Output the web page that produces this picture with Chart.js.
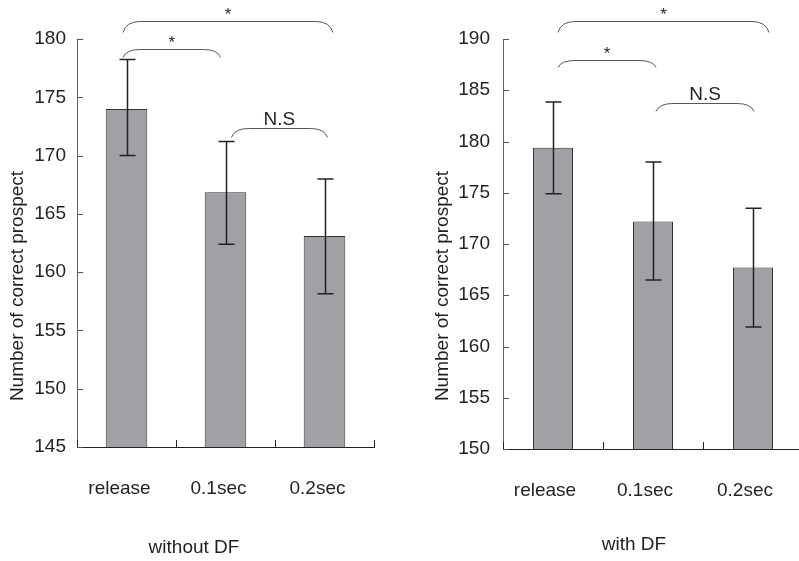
<!DOCTYPE html>
<html><head><meta charset="utf-8">
<script src="https://cdn.jsdelivr.net/npm/chart.js@4/dist/chart.umd.min.js"></script>
<style>
html,body{margin:0;padding:0;background:#fff;overflow:hidden;width:799px;height:561px}
#c1{position:absolute;left:0;top:0}
#c2{position:absolute;left:400px;top:0}
</style></head><body>
<canvas id="c1" width="400" height="561"></canvas>
<canvas id="c2" width="420" height="561"></canvas>
<script>
// ---- data ----
const categories = ['release', '0.1sec', '0.2sec'];

const withoutDF      = [174.0, 166.85, 163.1];
const withoutDFHigh  = [178.25, 171.2, 168.0];
const withoutDFLow   = [170.0, 162.4, 158.15];
const withoutDFTicks = [145, 150, 155, 160, 165, 170, 175, 180];

const withDF      = [179.4, 172.2, 167.7];
const withDFHigh  = [183.85, 178.0, 173.5];
const withDFLow   = [174.9, 166.5, 161.9];
const withDFTicks = [150, 155, 160, 165, 170, 175, 180, 185, 190];

// significance brackets: from category, to category, level (axis value), label
const withoutDFFrom   = [-0.035, -0.035, 1.06];
const withoutDFTo     = [2.085, 0.95, 2.03];
const withoutDFLevel  = [181.55, 179.15, 172.4];
const withoutDFMarks  = ['*', '*', 'N.S'];

const withDFFrom  = [0.05, 0.05, 1.03];
const withDFTo    = [2.16, 1.03, 2.01];
const withDFLevel = [191.75, 187.95, 183.8];
const withDFMarks = ['*', '*', 'N.S'];

const FONT = "'Liberation Sans', Arial, Helvetica, sans-serif";
const TXT = '#231f20';
const FS = 19;

function makeChart(id, values, hi, lo, tickVals, bFrom, bTo, bLevel, bMarks, cfg) {
  const overlay = {
    id: 'overlay',
    afterDatasetsDraw(chart) {
      const ctx = chart.ctx, x = chart.scales.x, y = chart.scales.y;
      ctx.save();
      // error bars
      ctx.strokeStyle = '#222';
      ctx.lineWidth = 1.5;
      for (let i = 0; i < values.length; i++) {
        const px = Math.round(x.getPixelForValue(i)) + 0.5;
        const yt = y.getPixelForValue(hi[i]);
        const yb = y.getPixelForValue(lo[i]);
        ctx.beginPath();
        ctx.moveTo(px, yt); ctx.lineTo(px, yb);
        ctx.moveTo(px - 8, yt); ctx.lineTo(px + 8, yt);
        ctx.moveTo(px - 8, yb); ctx.lineTo(px + 8, yb);
        ctx.stroke();
      }
      // inward tick marks
      ctx.lineWidth = 1;
      ctx.strokeStyle = '#555';
      y.ticks.forEach((t, i) => {
        const py = Math.round(y.getPixelForTick(i)) + 0.5;
        ctx.beginPath(); ctx.moveTo(x.left, py); ctx.lineTo(x.left + 6, py); ctx.stroke();
      });
      ctx.strokeStyle = '#222';
      for (let i = 0; i <= values.length; i++) {
        const px = Math.round(x.getPixelForValue(i - 0.5)) + 0.5;
        ctx.beginPath(); ctx.moveTo(px, y.bottom); ctx.lineTo(px, y.bottom - 7); ctx.stroke();
      }
      // brackets
      ctx.strokeStyle = '#555';
      ctx.lineWidth = 1;
      ctx.fillStyle = TXT;
      ctx.textAlign = 'center';
      ctx.textBaseline = 'alphabetic';
      for (let i = 0; i < bFrom.length; i++) {
        const x1 = x.getPixelForValue(bFrom[i]);
        const x2 = x.getPixelForValue(bTo[i]);
        const py = Math.round(y.getPixelForValue(bLevel[i])) + 0.5;
        const d = cfg.drop[i];
        ctx.beginPath();
        ctx.moveTo(x1, py + d);
        ctx.quadraticCurveTo(x1 + 3, py, x1 + 17, py);
        ctx.lineTo(x2 - 17, py);
        ctx.quadraticCurveTo(x2 - 3, py, x2, py + d);
        ctx.stroke();
        const mid = (x1 + x2) / 2;
        if (bMarks[i] === '*') {
          ctx.font = '17px ' + FONT;
          ctx.fillText('*', mid, py - 1.5);
        } else {
          ctx.font = FS + 'px ' + FONT;
          ctx.fillText(bMarks[i], mid, py - 3.5);
        }
      }
      // axis titles
      ctx.font = FS + 'px ' + FONT;
      ctx.fillStyle = TXT;
      ctx.textBaseline = 'middle';
      ctx.fillText(cfg.subtitle, cfg.subX, cfg.subY);
      ctx.translate(cfg.yLabelX, cfg.yLabelY);
      ctx.rotate(-Math.PI / 2);
      ctx.fillText('Number of correct prospect', 0, 0);
      ctx.restore();
    }
  };

  return new Chart(document.getElementById(id), {
    type: 'bar',
    data: {
      labels: categories,
      datasets: [{
        data: values,
        backgroundColor: '#a0a1a5',
        borderColor: '#333',
        borderWidth: 1,
        barPercentage: cfg.barPct,
        categoryPercentage: 1.0
      }]
    },
    options: {
      responsive: false,
      animation: false,
      events: [],
      layout: { padding: { left: 0, top: 39, right: cfg.padRight, bottom: 0 } },
      plugins: { legend: { display: false }, tooltip: { enabled: false }, title: { display: false } },
      scales: {
        x: {
          type: 'category',
          offset: true,
          grid: { display: false, drawTicks: false },
          border: { display: true, color: '#222', width: 1 },
          ticks: {
            color: TXT, font: { family: FONT, size: FS },
            padding: cfg.labelPad, labelOffset: cfg.labelOffset, maxRotation: 0, autoSkip: false
          },
          afterFit: s => { s.height = cfg.xHeight; }
        },
        y: {
          min: tickVals[0], max: tickVals[tickVals.length - 1],
          grid: { display: false, drawTicks: false },
          border: { display: true, color: '#666', width: 1 },
          ticks: { color: TXT, font: { family: FONT, size: FS }, padding: cfg.tickPad },
          afterBuildTicks: s => { s.ticks = tickVals.map(v => ({ value: v })); },
          afterFit: s => { s.width = cfg.yWidth; }
        }
      }
    },
    plugins: [overlay]
  });
}

makeChart('c1', withoutDF, withoutDFHigh, withoutDFLow, withoutDFTicks,
  withoutDFFrom, withoutDFTo, withoutDFLevel, withoutDFMarks, {
    yWidth: 77, xHeight: 114, padRight: 26, tickPad: 11, labelPad: 30, labelOffset: -7,
    barPct: 0.42, drop: [11, 8, 9],
    subtitle: 'without DF', subX: 194, subY: 548, yLabelX: 18, yLabelY: 286
  });

makeChart('c2', withDF, withDFHigh, withDFLow, withDFTicks,
  withDFFrom, withDFTo, withDFLevel, withDFMarks, {
    yWidth: 103, xHeight: 112, padRight: 17, tickPad: 13, labelPad: 30, labelOffset: -8,
    barPct: 0.40, drop: [11, 7, 8],
    subtitle: 'with DF', subX: 234, subY: 545, yLabelX: 43, yLabelY: 286
  });
</script>
</body></html>
